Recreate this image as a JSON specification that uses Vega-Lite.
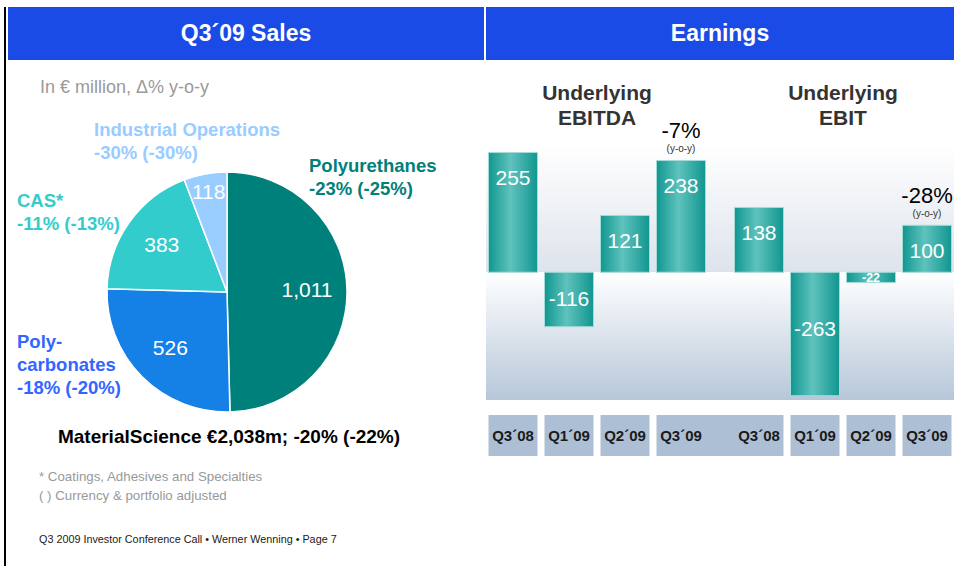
{
  "$schema": "https://vega.github.io/schema/vega-lite/v6.json",
  "padding": {"left": 4, "top": 7, "right": 0, "bottom": 0},
  "background": "#ffffff",
  "spacing": 2,
  "config": {
    "font": "Liberation Sans",
    "view": {"stroke": null}
  },
  "datasets": {
    "sales": [
      {"segment": "Polyurethanes", "value": 1011, "label": "Polyurethanes\n-23% (-25%)"},
      {"segment": "Polycarbonates", "value": 526, "label": "Poly-\ncarbonates\n-18% (-20%)"},
      {"segment": "CAS", "value": 383, "label": "CAS*\n-11% (-13%)"},
      {"segment": "Industrial Operations", "value": 118, "label": "Industrial Operations\n-30% (-30%)"}
    ],
    "earnings": [
      {"metric": "Underlying EBITDA", "quarter": "Q3´08", "value": 255},
      {"metric": "Underlying EBITDA", "quarter": "Q1´09", "value": -116},
      {"metric": "Underlying EBITDA", "quarter": "Q2´09", "value": 121},
      {"metric": "Underlying EBITDA", "quarter": "Q3´09", "value": 238, "yoy": "-7%"},
      {"metric": "Underlying EBIT", "quarter": "Q3´08", "value": 138},
      {"metric": "Underlying EBIT", "quarter": "Q1´09", "value": -263},
      {"metric": "Underlying EBIT", "quarter": "Q2´09", "value": -22},
      {"metric": "Underlying EBIT", "quarter": "Q3´09", "value": 100, "yoy": "-28%"}
    ]
  },
  "hconcat": [
    {
      "width": 2, "height": 559,
      "view": {"fill": "#000000", "stroke": null},
      "data": {"values": []},
      "mark": "text",
      "encoding": {}
    },
    {
      "bounds": "flush",
      "spacing": 106,
      "vconcat": [
        {
          "width": 476, "height": 53,
          "view": {"fill": "#1a4be6", "stroke": null},
          "title": {"text": "In € million, Δ% y-o-y", "orient": "bottom", "anchor": "start", "frame": "group", "dx": 32, "offset": 19, "fontSize": 18, "fontWeight": "normal", "color": "#9a9a9a"},
          "data": {"values": [{"heading": "Q3´09 Sales"}]},
          "mark": {"type": "text", "color": "#ffffff", "fontSize": 23, "fontWeight": "bold"},
          "encoding": {"text": {"field": "heading"}}
        },
        {
          "width": 438, "height": 252,
          "data": {"name": "sales"},
          "layer": [
            {
              "mark": {"type": "arc", "outerRadius": 120, "stroke": "#ffffff", "strokeWidth": 1.5},
              "encoding": {
                "theta": {"field": "value", "type": "quantitative", "stack": true},
                "order": {"field": "value", "type": "quantitative", "sort": "descending"},
                "color": {"field": "segment", "type": "nominal", "scale": {"domain": ["Polyurethanes", "Polycarbonates", "CAS", "Industrial Operations"], "range": ["#00807b", "#1580e6", "#33cccc", "#99ccff"]}, "legend": null}
              }
            },
            {
              "mark": {"type": "text", "radius": {"expr": "datum.value < 200 ? 101 : 80"}, "fill": "#ffffff", "fontSize": 21},
              "encoding": {
                "theta": {"field": "value", "type": "quantitative", "stack": true},
                "order": {"field": "value", "type": "quantitative", "sort": "descending"},
                "detail": {"field": "segment", "type": "nominal"},
                "text": {"field": "value", "type": "quantitative", "format": ","}
              }
            },
            {
              "transform": [{"filter": "datum.segment === 'Polyurethanes'"}],
              "mark": {"type": "text", "align": "left", "baseline": "middle", "dx": 82, "dy": -126, "fontSize": 18.5, "fontWeight": "bold", "lineBreak": "\n", "lineHeight": 22.5, "color": "#00807b"},
              "encoding": {"text": {"field": "label"}}
            },
            {
              "transform": [{"filter": "datum.segment === 'Industrial Operations'"}],
              "mark": {"type": "text", "align": "left", "baseline": "middle", "dx": -133, "dy": -162, "fontSize": 18.5, "fontWeight": "bold", "lineBreak": "\n", "lineHeight": 23, "color": "#99ccff"},
              "encoding": {"text": {"field": "label"}}
            },
            {
              "transform": [{"filter": "datum.segment === 'CAS'"}],
              "mark": {"type": "text", "align": "left", "baseline": "middle", "dx": -210, "dy": -91, "fontSize": 18.5, "fontWeight": "bold", "lineBreak": "\n", "lineHeight": 22.5, "color": "#33cccc"},
              "encoding": {"text": {"field": "label"}}
            },
            {
              "transform": [{"filter": "datum.segment === 'Polycarbonates'"}],
              "mark": {"type": "text", "align": "left", "baseline": "middle", "dx": -210, "dy": 50, "fontSize": 18.5, "fontWeight": "bold", "lineBreak": "\n", "lineHeight": 23, "color": "#3366ff"},
              "encoding": {"text": {"field": "label"}}
            },
            {
              "data": {"values": [{"summary": "MaterialScience €2,038m; -20% (-22%)"}]},
              "mark": {"type": "text", "align": "center", "baseline": "middle", "dx": 2, "dy": 145, "fontSize": 19, "fontWeight": "bold", "color": "#000000"},
              "encoding": {"text": {"field": "summary"}}
            },
            {
              "data": {"values": [{"note": "* Coatings, Adhesives and Specialties\n( ) Currency & portfolio adjusted"}]},
              "mark": {"type": "text", "align": "left", "baseline": "middle", "dx": -188, "dy": 184.5, "fontSize": 13.3, "lineBreak": "\n", "lineHeight": 19, "color": "#999999"},
              "encoding": {"text": {"field": "note"}}
            },
            {
              "data": {"values": [{"footer": "Q3 2009 Investor Conference Call • Werner Wenning • Page 7"}]},
              "mark": {"type": "text", "align": "left", "baseline": "middle", "dx": -188, "dy": 248, "fontSize": 10.8, "color": "#1a1a1a"},
              "encoding": {"text": {"field": "footer"}}
            }
          ]
        }
      ]
    },
    {
      "bounds": "flush",
      "spacing": 15,
      "vconcat": [
        {
          "width": 468, "height": 53,
          "view": {"fill": "#1a4be6", "stroke": null},
          "data": {"values": [{"heading": "Earnings"}]},
          "mark": {"type": "text", "color": "#ffffff", "fontSize": 23, "fontWeight": "bold"},
          "encoding": {"text": {"field": "heading"}}
        },
        {
          "width": 468, "height": 325,
          "data": {"name": "earnings"},
          "layer": [
            {
              "data": {"values": [{}]},
              "mark": {"type": "rect", "fill": {"gradient": "linear", "x1": 0, "y1": 0, "x2": 0, "y2": 1, "stops": [{"offset": 0, "color": "#ffffff"}, {"offset": 1, "color": "#dde3ec"}]}},
              "encoding": {
                "y": {"datum": 271, "type": "quantitative", "scale": {"domain": [-272, 420], "nice": false, "zero": false}, "axis": null},
                "y2": {"datum": 0}
              }
            },
            {
              "data": {"values": [{}]},
              "mark": {"type": "rect", "fill": {"gradient": "linear", "x1": 0, "y1": 0, "x2": 0, "y2": 1, "stops": [{"offset": 0, "color": "#ffffff"}, {"offset": 1, "color": "#b7c7d9"}]}},
              "encoding": {
                "y": {"datum": 0, "type": "quantitative", "scale": {"domain": [-272, 420], "nice": false, "zero": false}, "axis": null},
                "y2": {"datum": -272}
              }
            },
            {
              "mark": {"type": "bar", "fill": {"gradient": "linear", "x1": 0, "y1": 0, "x2": 1, "y2": 0, "stops": [{"offset": 0, "color": "#119690"}, {"offset": 0.45, "color": "#5fc2bd"}, {"offset": 1, "color": "#119690"}]}, "stroke": "#a6dcd8", "strokeWidth": 1},
              "encoding": {
                "x": {"field": "metric", "type": "nominal", "scale": {"domain": ["Underlying EBITDA", "Underlying EBIT"], "paddingInner": 0.09756, "paddingOuter": 0}, "axis": {"orient": "top", "offset": -28, "title": null, "labelAngle": 0, "labelExpr": "split(datum.value, ' ')", "labelFontSize": 21, "labelFontWeight": "bold", "labelColor": "#333333", "labelLineHeight": 25, "labelPadding": 0, "labelBaseline": "bottom", "domain": false, "ticks": false}},
                "xOffset": {"field": "quarter", "type": "nominal", "scale": {"domain": ["Q3´08", "Q1´09", "Q2´09", "Q3´09"], "paddingInner": 0.125, "paddingOuter": 0.0446}},
                "y": {"field": "value", "type": "quantitative", "scale": {"domain": [-272, 420], "nice": false, "zero": false}, "axis": null}
              }
            },
            {
              "transform": [{"filter": "datum.value > 0"}],
              "mark": {"type": "text", "color": "#ffffff", "fontSize": 21, "baseline": "middle", "dy": 27},
              "encoding": {
                "x": {"field": "metric", "type": "nominal"},
                "xOffset": {"field": "quarter", "type": "nominal"},
                "y": {"field": "value", "type": "quantitative"},
                "text": {"field": "value", "type": "nominal"}
              }
            },
            {
              "transform": [{"filter": "datum.value < -50 && datum.value > -200"}],
              "mark": {"type": "text", "color": "#ffffff", "fontSize": 21, "baseline": "middle", "dy": -27},
              "encoding": {
                "x": {"field": "metric", "type": "nominal"},
                "xOffset": {"field": "quarter", "type": "nominal"},
                "y": {"field": "value", "type": "quantitative"},
                "text": {"field": "value", "type": "nominal"}
              }
            },
            {
              "transform": [{"filter": "datum.value < -200"}],
              "mark": {"type": "text", "color": "#ffffff", "fontSize": 21, "baseline": "middle", "dy": -66},
              "encoding": {
                "x": {"field": "metric", "type": "nominal"},
                "xOffset": {"field": "quarter", "type": "nominal"},
                "y": {"field": "value", "type": "quantitative"},
                "text": {"field": "value", "type": "nominal"}
              }
            },
            {
              "transform": [{"filter": "datum.value < 0 && datum.value > -50"}],
              "mark": {"type": "text", "color": "#ffffff", "fontSize": 12.5, "fontWeight": "bold", "baseline": "middle", "dy": -5},
              "encoding": {
                "x": {"field": "metric", "type": "nominal"},
                "xOffset": {"field": "quarter", "type": "nominal"},
                "y": {"field": "value", "type": "quantitative"},
                "text": {"field": "value", "type": "nominal"}
              }
            },
            {
              "transform": [{"filter": "isValid(datum.yoy)"}],
              "mark": {"type": "text", "color": "#000000", "fontSize": 22, "baseline": "middle", "dy": -29},
              "encoding": {
                "x": {"field": "metric", "type": "nominal"},
                "xOffset": {"field": "quarter", "type": "nominal"},
                "y": {"field": "value", "type": "quantitative"},
                "text": {"field": "yoy"}
              }
            },
            {
              "transform": [{"filter": "isValid(datum.yoy)"}],
              "mark": {"type": "text", "color": "#333333", "fontSize": 10, "baseline": "middle", "dy": -11, "text": "(y-o-y)"},
              "encoding": {
                "x": {"field": "metric", "type": "nominal"},
                "xOffset": {"field": "quarter", "type": "nominal"},
                "y": {"field": "value", "type": "quantitative"}
              }
            }
          ]
        },
        {
          "width": 468, "height": 41,
          "data": {"name": "earnings"},
          "layer": [
            {
              "data": {"values": [{}]},
              "mark": {"type": "rect", "fill": "#adbfd4"},
              "encoding": {
                "x": {"datum": "Underlying EBITDA", "bandPosition": 0.95, "type": "nominal", "scale": {"domain": ["Underlying EBITDA", "Underlying EBIT"], "paddingInner": 0.09756, "paddingOuter": 0}, "axis": null},
                "x2": {"datum": "Underlying EBIT", "bandPosition": 0.05}
              }
            },
            {
              "mark": {"type": "bar", "fill": "#adbfd4"},
              "encoding": {
                "x": {"field": "metric", "type": "nominal", "scale": {"domain": ["Underlying EBITDA", "Underlying EBIT"], "paddingInner": 0.09756, "paddingOuter": 0}, "axis": null},
                "xOffset": {"field": "quarter", "type": "nominal", "scale": {"domain": ["Q3´08", "Q1´09", "Q2´09", "Q3´09"], "paddingInner": 0.0357, "paddingOuter": 0}}
              }
            },
            {
              "mark": {"type": "text", "fontSize": 15, "fontWeight": "bold", "color": "#1a1a1a"},
              "encoding": {
                "x": {"field": "metric", "type": "nominal"},
                "xOffset": {"field": "quarter", "type": "nominal"},
                "text": {"field": "quarter"}
              }
            }
          ]
        }
      ]
    }
  ]
}
